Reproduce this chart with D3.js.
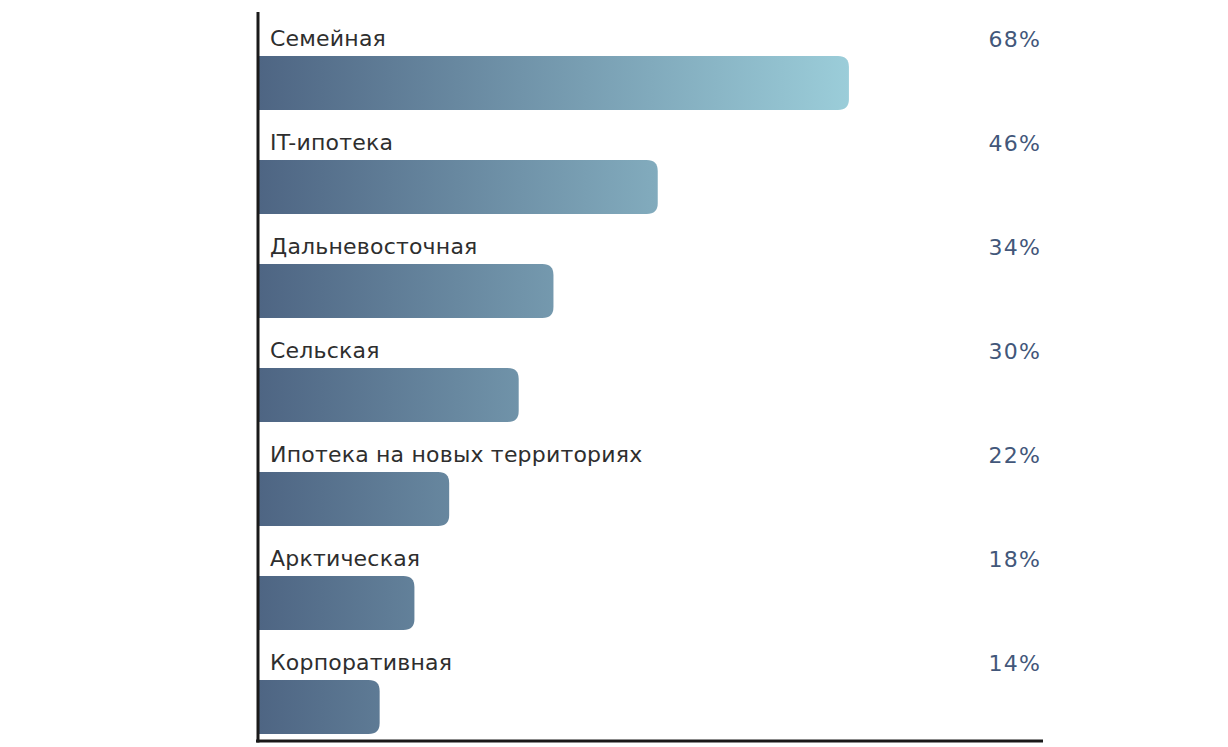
<!DOCTYPE html>
<html>
<head>
<meta charset="utf-8">
<script src="https://cdn.jsdelivr.net/npm/d3@7"></script>
<style>
  body { margin: 0; background: #fff; }
  text { font-family: "DejaVu Sans", "Noto Sans", sans-serif; }
</style>
</head>
<body>
<svg id="chart" width="1228" height="747"></svg>
<script>
var categories = ["Семейная", "IT-ипотека", "Дальневосточная", "Сельская",
                  "Ипотека на новых территориях", "Арктическая", "Корпоративная"];
var values = [68, 46, 34, 30, 22, 18, 14];
var valueLabels = ["68%", "46%", "34%", "30%", "22%", "18%", "14%"];

var width = 1228, height = 747;
var axisX = 258, axisBottom = 741;
var rowTop = 56, rowStep = 104, barHeight = 54;
var radius = 11;

var svg = d3.select("#chart");

var x = d3.scaleLinear()
    .domain([0, 100])
    .range([axisX, axisX + 869]);

var y = d3.scaleBand()
    .domain(categories)
    .range([rowTop, rowTop + rowStep * categories.length])
    .paddingInner(0)
    .paddingOuter(0);

// gradient shared by all bars (user space, so short bars stay dark)
var grad = svg.append("defs").append("linearGradient")
    .attr("id", "barGrad")
    .attr("gradientUnits", "userSpaceOnUse")
    .attr("x1", x(0)).attr("x2", x(d3.max(values)))
    .attr("y1", 0).attr("y2", 0);
grad.append("stop").attr("offset", "0%").attr("stop-color", "#4e6583");
grad.append("stop").attr("offset", "100%").attr("stop-color", "#9bcdd9");

function barPath(d, i) {
  var x0 = x(0), x1 = x(d), y0 = y(categories[i]), y1 = y0 + barHeight;
  var r = radius;
  return "M" + x0 + "," + y0 +
         "H" + (x1 - r) +
         "Q" + x1 + "," + y0 + " " + x1 + "," + (y0 + r) +
         "V" + (y1 - r) +
         "Q" + x1 + "," + y1 + " " + (x1 - r) + "," + y1 +
         "H" + x0 + "Z";
}

svg.selectAll("path.bar")
  .data(values)
  .enter()
  .append("path")
  .attr("class", "bar")
  .attr("d", barPath)
  .attr("fill", "url(#barGrad)");

svg.selectAll("text.cat")
  .data(categories)
  .enter()
  .append("text")
  .attr("class", "cat")
  .attr("x", axisX + 12)
  .attr("y", function(d) { return y(d) - 10; })
  .attr("font-size", 22)
  .attr("letter-spacing", 0.2)
  .attr("fill", "#2e2e2e")
  .text(function(d) { return d; });

svg.selectAll("text.val")
  .data(valueLabels)
  .enter()
  .append("text")
  .attr("class", "val")
  .attr("x", 1041)
  .attr("y", function(d, i) { return y(categories[i]) - 9; })
  .attr("text-anchor", "end")
  .attr("font-size", 22)
  .attr("letter-spacing", 1.2)
  .attr("fill", "#42577a")
  .text(function(d) { return d; });

// axes
svg.append("line")
  .attr("x1", axisX).attr("x2", axisX)
  .attr("y1", 12).attr("y2", axisBottom + 1.5)
  .attr("stroke", "#1a1a1a").attr("stroke-width", 3);

svg.append("line")
  .attr("x1", axisX - 2).attr("x2", 1043)
  .attr("y1", axisBottom).attr("y2", axisBottom)
  .attr("stroke", "#1a1a1a").attr("stroke-width", 3);
</script>
</body>
</html>
